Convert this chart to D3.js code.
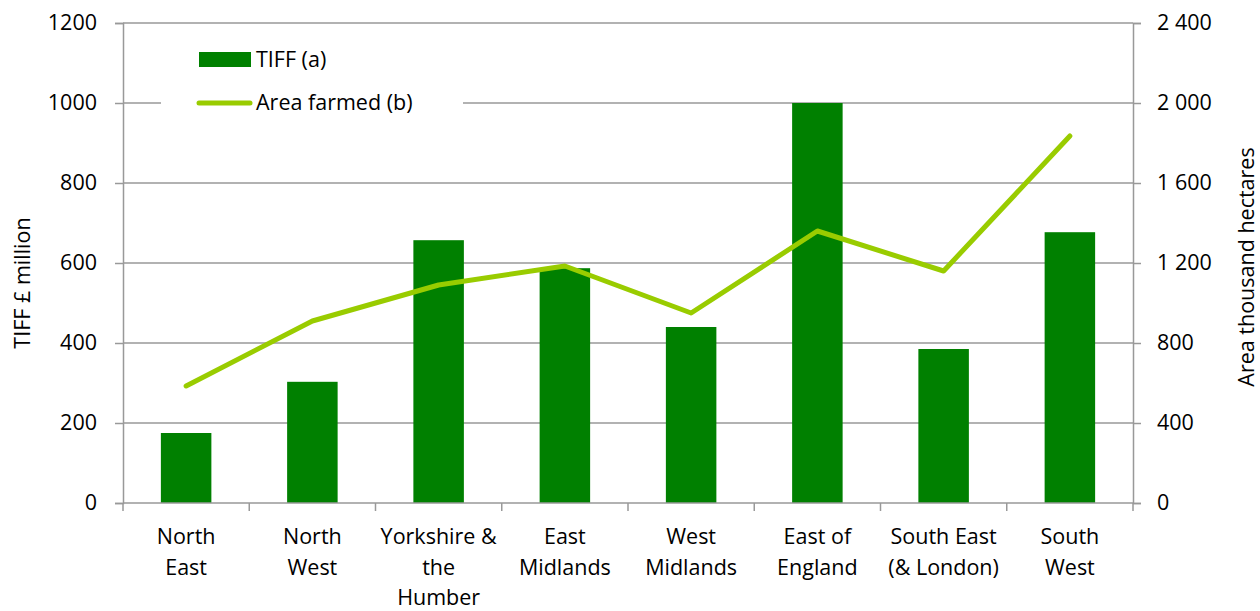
<!DOCTYPE html>
<html>
<head>
<meta charset="utf-8">
<script src="https://cdn.jsdelivr.net/npm/d3@7"></script>
<style>
  html, body { margin: 0; padding: 0; background: #fff; }
  svg { display: block; }
  text { font-family: "Open Sans", sans-serif; fill: #000; }
</style>
</head>
<body>
<svg id="chart" width="1260" height="611"></svg>
<script>
// ---- Data ----
const categories = [
  ["North", "East"],
  ["North", "West"],
  ["Yorkshire &", "the", "Humber"],
  ["East", "Midlands"],
  ["West", "Midlands"],
  ["East of", "England"],
  ["South East", "(& London)"],
  ["South", "West"]
];
const tiffValues = [175, 303, 657, 587, 440, 1000, 385, 677];
const areaValues = [585, 910, 1090, 1185, 950, 1360, 1160, 1835];
const leftTicks = [0, 200, 400, 600, 800, 1000, 1200];
const rightTicks = [0, 400, 800, 1200, 1600, 2000, 2400];
const seriesNames = ["TIFF (a)", "Area farmed (b)"];
const axisTitles = ["TIFF £ million", "Area thousand hectares"];

// ---- Layout ----
const svg = d3.select("#chart");
const plot = { left: 123, right: 1133, top: 23, bottom: 503 };
const barColor = "#008000";
const lineColor = "#99CC00";
const gridColor = "#999999";
const fontSize = 21.5;
const fontFam = "'Open Sans', sans-serif";

const keys = categories.map((c, i) => i);
const x = d3.scaleBand().domain(keys).range([plot.left, plot.right]).padding(0);
const yL = d3.scaleLinear().domain([0, 1200]).range([plot.bottom, plot.top]);
const yR = d3.scaleLinear().domain([0, 2400]).range([plot.bottom, plot.top]);

const locale = d3.formatLocale({ decimal: ".", thousands: " ", grouping: [3], currency: ["£", ""] });
const fmtR = locale.format(",d");

// Gridlines
svg.append("g")
  .selectAll("line")
  .data(leftTicks.filter(d => d > 0))
  .join("line")
  .attr("x1", plot.left).attr("x2", plot.right)
  .attr("y1", d => yL(d)).attr("y2", d => yL(d))
  .attr("stroke", gridColor).attr("stroke-width", 1.5);

// Bars
const bw = x.bandwidth() * 0.4;
svg.append("g")
  .selectAll("rect")
  .data(tiffValues)
  .join("rect")
  .attr("x", (d, i) => x(i) + x.bandwidth() / 2 - bw / 2)
  .attr("width", bw)
  .attr("y", d => yL(d))
  .attr("height", d => yL(0) - yL(d))
  .attr("fill", barColor);

// Line
const line = d3.line()
  .x((d, i) => x(i) + x.bandwidth() / 2)
  .y(d => yR(d));
svg.append("path")
  .datum(areaValues)
  .attr("d", line)
  .attr("fill", "none")
  .attr("stroke", lineColor)
  .attr("stroke-width", 5)
  .attr("stroke-linejoin", "round")
  .attr("stroke-linecap", "round");

// Left axis
const axL = svg.append("g")
  .attr("transform", `translate(${plot.left},0)`)
  .call(d3.axisLeft(yL).tickValues(leftTicks).tickSize(8).tickPadding(18).tickFormat(d3.format("d")));
axL.select(".domain").attr("stroke", gridColor).attr("stroke-width", 1.5);
axL.selectAll(".tick line").attr("stroke", gridColor).attr("stroke-width", 1.5);
axL.selectAll(".tick text").attr("font-size", fontSize).attr("font-family", fontFam).attr("fill", "#000");

// Right axis
const axR = svg.append("g")
  .attr("transform", `translate(${plot.right},0)`)
  .call(d3.axisRight(yR).tickValues(rightTicks).tickSize(8).tickPadding(16).tickFormat(fmtR));
axR.select(".domain").attr("stroke", gridColor).attr("stroke-width", 1.5);
axR.selectAll(".tick line").attr("stroke", gridColor).attr("stroke-width", 1.5);
axR.selectAll(".tick text").attr("font-size", fontSize).attr("font-family", fontFam).attr("fill", "#000");

// Bottom axis
const axB = svg.append("g").attr("transform", `translate(0,${plot.bottom})`);
axB.append("line")
  .attr("x1", plot.left).attr("x2", plot.right)
  .attr("y1", 0).attr("y2", 0)
  .attr("stroke", gridColor).attr("stroke-width", 1.5);
axB.selectAll("line.tk")
  .data(d3.range(keys.length + 1))
  .join("line")
  .attr("class", "tk")
  .attr("x1", i => plot.left + i * x.step()).attr("x2", i => plot.left + i * x.step())
  .attr("y1", 0).attr("y2", 8)
  .attr("stroke", gridColor).attr("stroke-width", 1.5);
const lbl = axB.selectAll("text.cat")
  .data(categories)
  .join("text")
  .attr("class", "cat")
  .attr("text-anchor", "middle")
  .attr("font-size", fontSize)
  .attr("x", (d, i) => x(i) + x.bandwidth() / 2)
  .attr("y", 41);
lbl.selectAll("tspan")
  .data(d => d)
  .join("tspan")
  .attr("x", function () { return d3.select(this.parentNode).attr("x"); })
  .attr("dy", (d, j) => j === 0 ? 0 : 30.5)
  .text(d => d);

// Axis titles
svg.append("text")
  .attr("transform", `translate(30,283) rotate(-90)`)
  .attr("text-anchor", "middle")
  .attr("font-size", fontSize)
  .text(axisTitles[0]);
svg.append("text")
  .attr("transform", `translate(1254,267) rotate(-90)`)
  .attr("text-anchor", "middle")
  .attr("font-size", fontSize)
  .text(axisTitles[1]);

// Legend
const lg = svg.append("g");
lg.append("rect").attr("x", 161).attr("y", 40).attr("width", 302).attr("height", 80).attr("fill", "#fff");
lg.append("rect").attr("x", 199).attr("y", 52).attr("width", 52).attr("height", 15).attr("fill", barColor);
lg.append("text").attr("x", 256).attr("y", 67).attr("font-size", fontSize).text(seriesNames[0]);
lg.append("line").attr("x1", 199).attr("x2", 250).attr("y1", 103).attr("y2", 103)
  .attr("stroke", lineColor).attr("stroke-width", 5).attr("stroke-linecap", "round");
lg.append("text").attr("x", 256).attr("y", 110).attr("font-size", fontSize).text(seriesNames[1]);
</script>
</body>
</html>
